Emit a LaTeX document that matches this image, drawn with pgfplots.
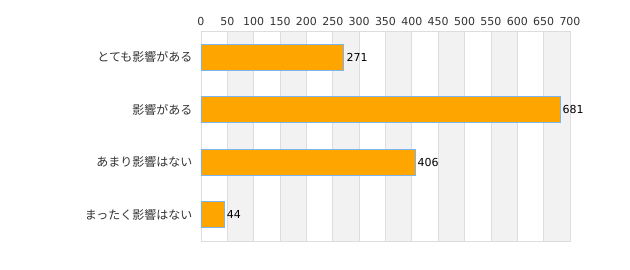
\documentclass[border=0pt]{standalone}
\usepackage{pgfplots}
\pgfplotsset{compat=1.18}
\usepackage{fontspec}
\setmainfont{DejaVu Sans}
\newfontfamily\jp{Noto Sans CJK JP}
\definecolor{barfill}{HTML}{FFA500}
\definecolor{barline}{HTML}{7CB5EC}
\definecolor{band}{HTML}{F2F2F2}
\definecolor{gridc}{HTML}{DDDDDD}
\definecolor{txt}{HTML}{333333}
\begin{document}
\begin{tikzpicture}
\path[use as bounding box] (-201bp,-29bp) rectangle (429bp,241bp);
\begin{axis}[
  anchor=south west, at={(0,0)},
  scale only axis, width=369bp, height=210bp,
  xbar, bar width=26bp,
  xmin=0, xmax=700, ymin=-0.5, ymax=3.5,
  y dir=reverse,
  axis x line*=top,
  xtick={0,50,...,700},
  ytick={0,1,2,3},
  yticklabels={とても影響がある,影響がある,あまり影響はない,まったく影響はない},
  yticklabel style={font=\jp\fontsize{12bp}{14bp}\selectfont, text=txt, xshift=-5bp},
  xticklabel style={font=\fontsize{11bp}{13bp}\selectfont, text=txt, yshift=2bp},
  /pgf/number format/assume math mode=true,
  major tick length=0pt,
  axis line style={gridc, line width=0.8bp},
  nodes near coords,
  nodes near coords style={font=\fontsize{11bp}{13bp}\selectfont, text=black, xshift=-1bp},
  clip=false,
]
\pgfplotsinvokeforeach{50,150,...,650}{
  \fill[band] (axis cs:#1,-0.5) rectangle (axis cs:#1+50,3.5);
}
\pgfplotsinvokeforeach{50,100,...,650}{
  \draw[gridc, line width=0.8bp] (axis cs:#1,-0.5) -- (axis cs:#1,3.5);
}
\draw[gridc, line width=0.8bp] (axis cs:0,-0.5) rectangle (axis cs:700,3.5);
\addplot[fill=barfill, draw=barline, line width=0.8bp] coordinates {(271,0) (681,1) (406,2) (44,3)};
\end{axis}
\end{tikzpicture}
\end{document}
